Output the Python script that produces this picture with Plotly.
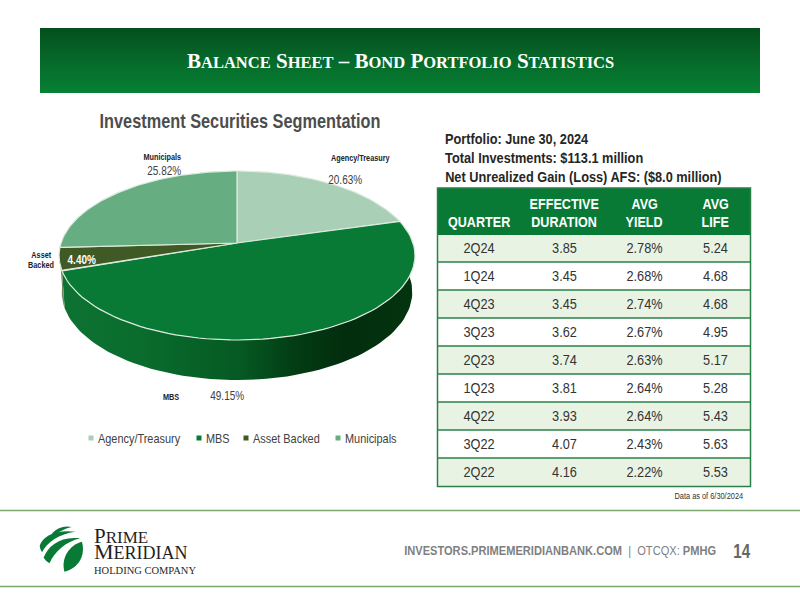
import json
import numpy as np
import plotly.graph_objects as go

# ---------- data ----------
categories = ["Agency/Treasury", "MBS", "Asset Backed", "Municipals"]
shares = [20.63, 49.15, 4.40, 25.82]
quarters = ["2Q24", "1Q24", "4Q23", "3Q23", "2Q23", "1Q23", "4Q22", "3Q22", "2Q22"]
durations = ["3.85", "3.45", "3.45", "3.62", "3.74", "3.81", "3.93", "4.07", "4.16"]
yields_ = ["2.78%", "2.68%", "2.74%", "2.67%", "2.63%", "2.64%", "2.64%", "2.43%", "2.22%"]
lives = ["5.24", "4.68", "4.68", "4.95", "5.17", "5.28", "5.43", "5.63", "5.53"]
table_header = ["QUARTER", "EFFECTIVE<br>DURATION", "AVG<br>YIELD", "AVG<br>LIFE"]
portfolio_lines = ["Portfolio: June 30, 2024", "Total Investments: $113.1 million",
                   "Net Unrealized Gain (Loss) AFS: ($8.0 million)"]

# ---------- styles ----------
SANS = "Liberation Sans, Arial"
SERIF = "Liberation Serif, serif"
slice_colors = ["#a9cfb7", "#087a35", "#3f5a24", "#66ad81"]
GREEN = "#087a35"
RULE = "#2b8048"

CX, CY, BX, AY, K = 237.0, 243.0, 176.0, 82.65, 0.148


def rim(theta_deg, n_scale=1.0, drop=0.0):
    t = np.radians(theta_deg)
    d = 1 + K * np.cos(t)
    x = CX + n_scale * BX * np.sin(t) / d
    y = CY - AY * np.cos(t) / d + drop * d ** -0.66
    return x, y


fig = go.Figure()
annos, shapes, squeeze = [], [], []


def text(x, y, s, size=12, color="#333333", family=SANS, anchor="center", bold=False, sx=1.0, align="center"):
    annos.append(dict(x=x, y=y, xref="x", yref="y", text=f"<b>{s}</b>" if bold else s,
                      showarrow=False, xanchor=anchor, yanchor="middle", align=align,
                      font=dict(size=size, color=color, family=family)))
    squeeze.append([sx, anchor])


# header band
fig.add_trace(go.Scatter(x=[40, 760, 760, 40, 40], y=[28, 28, 93, 93, 28], mode="lines",
                         line=dict(width=0), fill="toself", hoverinfo="skip", showlegend=False,
                         fillgradient=dict(type="vertical", start=28, stop=93,
                                           colorscale=[[0, "#04501e"], [0.5, "#06692a"], [1, "#078134"]])))

SC = 'style="font-size:16.5px"'
title = "".join([
    "B", f"<span {SC}>ALANCE</span> ", "S", f"<span {SC}>HEET</span> – ",
    "B", f"<span {SC}>OND</span> ", "P", f"<span {SC}>ORTFOLIO</span> ",
    "S", f"<span {SC}>TATISTICS</span>"])
text(400.5, 60.5, title, size=21, color="white", family=SERIF, bold=True)

# chart title
text(240, 121, "Investment Securities Segmentation", size=19.5, color="#4d4d4d", bold=True, sx=0.836)

# ---------- 3D pie, every angle derived from the shares ----------
bounds = np.concatenate([[0], np.cumsum(shares)]) / np.sum(shares) * 360.0
DEPTH = 36.0


def poly(xs, ys, color, line=None, gradient=None, name=None):
    kw = dict(x=list(xs), y=list(ys), mode="lines", fill="toself", showlegend=False,
              hoverinfo="text" if name else "skip", text=name,
              line=dict(color=line or color, width=1.2 if line else 0))
    if gradient:
        kw["fillgradient"] = gradient
    else:
        kw["fillcolor"] = color
    fig.add_trace(go.Scatter(**kw))


# walls
a = np.linspace(bounds[1], bounds[2], 90)
xt, yt = rim(a)
xb, yb = rim(a, 0.985, DEPTH)
poly(np.r_[xt, xb[::-1], xt[0]], np.r_[yt, yb[::-1], yt[0]], "#087a35",
     gradient=dict(type="horizontal", start=62, stop=416,
                   colorscale=[[0, "#0c7232"], [0.2, "#0a6d2e"], [0.5, "#065a23"], [0.66, "#033c13"],
                               [0.8, "#022d0e"], [1, "#04340f"]]))
a = np.linspace(bounds[2], bounds[3] - 2, 12)
xt, yt = rim(a)
xb, yb = rim(a, 0.985, DEPTH)
poly(np.r_[xt, xb[::-1], xt[0]], np.r_[yt, yb[::-1], yt[0]], "#6f8a60")

# top faces
for i, cat in enumerate(categories):
    a = np.linspace(bounds[i], bounds[i + 1], 80)
    xr, yr = rim(a)
    poly(np.r_[CX, xr, CX], np.r_[CY, yr, CY], slice_colors[i], line="#dcebdd",
         name=f"{cat}: {shares[i]:.2f}%")

# pie labels
label_pos = [(360, 158), (171, 397), None, (162, 157)]
value_pos = [(345, 180), (227, 396), (81, 260), (164, 171)]
for i, cat in enumerate(categories):
    if label_pos[i]:
        text(*label_pos[i], cat, size=9, color="#222222", bold=True, sx=0.81)
    text(*value_pos[i], f"{shares[i]:.2f}%", size=12.5, color="white" if i == 2 else "#404040",
         bold=i == 2, sx=0.8)
text(41, 255, "Asset", size=9, color="#222222", bold=True, sx=0.81)
text(41, 265, "Backed", size=9, color="#222222", bold=True, sx=0.81)

# legend
legend_x = [91, 199, 246, 338]
fig.add_trace(go.Scatter(x=legend_x, y=[438] * 4, mode="markers", hoverinfo="skip", showlegend=False,
                         marker=dict(symbol="square", size=5, color=slice_colors)))
for lx, cat in zip(legend_x, categories):
    text(lx + 5, 438, cat, size=13, color="#404040", anchor="left", sx=0.84)

# side text
for yy, line in zip([139, 158, 177], portfolio_lines):
    text(443, yy, line, size=14.5, color="#262626", anchor="left", bold=True, sx=0.88)

# table: blank header row supplies the green band, labels are laid over it line by line
col_centers = [478.5, 564, 644, 715]
row_fill = ["#e9f3e4" if r % 2 == 0 else "white" for r in range(len(quarters))]
fig.add_trace(go.Table(
    domain=dict(x=[437.5 / 800, 750.5 / 800], y=[1 - 486.5 / 600, 1 - 188 / 600]),
    columnwidth=[83, 88, 72, 70],
    header=dict(values=[""] * 4, height=46, fill_color=GREEN, line=dict(width=1, color=GREEN)),
    cells=dict(values=[quarters, durations, yields_, lives], height=28,
               fill_color=[row_fill] * 4,
               line=dict(width=1, color=[row_fill] * 4), align="center",
               font=dict(size=15, color="#333333", family=SANS)),
))
for cx, h in zip(col_centers, table_header):
    parts = h.split("<br>")
    for yy, part in zip([221, 203], reversed(parts)):
        text(cx, yy, part, size=15, color="white", bold=True, sx=0.84)

for r in range(1, len(quarters)):
    yy = 234 + 28 * r
    shapes.append(dict(type="line", x0=437.5, x1=750.5, y0=yy, y1=yy, xref="x", yref="y", layer="above",
                       line=dict(color=RULE, width=1.5)))
shapes.append(dict(type="rect", x0=437.5, x1=750.5, y0=188, y1=486.5, xref="x", yref="y", layer="above",
                   line=dict(color=RULE, width=1.5)))

text(745, 495.5, "Data as of 6/30/2024", size=9.5, color="#333333", anchor="right", sx=0.78)

# footer
for yy in (510.5, 586.5):
    shapes.append(dict(type="line", x0=0, x1=800, y0=yy, y1=yy, xref="x", yref="y", layer="below",
                       line=dict(color="#7ba86c", width=1.5)))


def logo_path(pts):
    cmds = []
    for tok in pts:
        if isinstance(tok, str):
            cmds.append(tok)
        else:
            cmds.append(f"{30 + tok[0] / 3.08:.1f},{515 + tok[1] / 3:.1f}")
    return " ".join(cmds)


stripes = [
    ["M", (68, 55), "Q", (92, 30), (128, 36), "Q", (100, 42), (72, 62), "Z"],
    ["M", (30, 92), "C", (38, 65), (78, 42), (140, 50), "C", (90, 56), (52, 82), (37, 112), "Q", (30, 100), (30, 92), "Z"],
    ["M", (42, 128), "C", (55, 92), (95, 62), (155, 70), "C", (110, 80), (75, 110), (60, 145), "Q", (48, 138), (42, 128), "Z"],
    ["M", (106, 170), "C", (95, 130), (120, 90), (160, 80), "C", (172, 120), (150, 160), (106, 170), "Z"],
]
for st in stripes:
    shapes.append(dict(type="path", path=logo_path(st), xref="x", yref="y", fillcolor=GREEN,
                       line=dict(width=0), layer="above"))

LOGO = "#1f1f1f"
sc = 'style="font-size:{}px"'
logo_text = (f"<span {sc.format(21)}>P</span><span {sc.format(17)}>RIME</span><br>"
             f"<span {sc.format(22)}>M</span><span {sc.format(18)}>ERIDIAN</span><br>"
             f"<span {sc.format(10.5)}>HOLDING COMPANY</span>")
text(92, 550, logo_text, size=12, color=LOGO, family=SERIF, anchor="left", align="left")

text(402, 551,
     '<b>INVESTORS.PRIMEMERIDIANBANK.COM</b>  |  OTCQX: <b>PMHG</b>',
     size=12, color="#7f7f7f", anchor="left", sx=0.925)
text(741.5, 550, "<b>14</b>", size=21, color="#666666", sx=0.72)

fig.update_layout(
    width=800, height=600, margin=dict(l=0, r=0, t=0, b=0), paper_bgcolor="white", plot_bgcolor="white",
    showlegend=False, annotations=annos, shapes=shapes,
    xaxis=dict(range=[0, 800], visible=False, fixedrange=True),
    yaxis=dict(range=[600, 0], visible=False, fixedrange=True),
)

# The reference's sans type is condensed and no narrow face is installed: squeeze real text horizontally.
post = """
document.body.style.margin='0';document.body.style.overflow='hidden';
var sq=%s;
function squeezeText(t,f,anchor){
  var b=t.getBBox();
  var ox=anchor==='left'?b.x:(anchor==='right'?b.x+b.width:b.x+b.width/2);
  var old=t.getAttribute('transform')||'';
  t.setAttribute('transform',old+' translate('+ox+',0) scale('+f+',1) translate('+(-ox)+',0)');
}
document.querySelectorAll('.annotation').forEach(function(g){
  var i=+g.getAttribute('data-index');var t=g.querySelector('text');
  if(t&&sq[i]&&sq[i][0]!==1){squeezeText(t,sq[i][0],sq[i][1]);}
});
document.querySelectorAll('.table text').forEach(function(t){if(t.textContent.trim()){squeezeText(t,0.85,'middle');}});
""" % json.dumps(squeeze)
fig.write_html("out.html", config=dict(displayModeBar=False), post_script=post)
